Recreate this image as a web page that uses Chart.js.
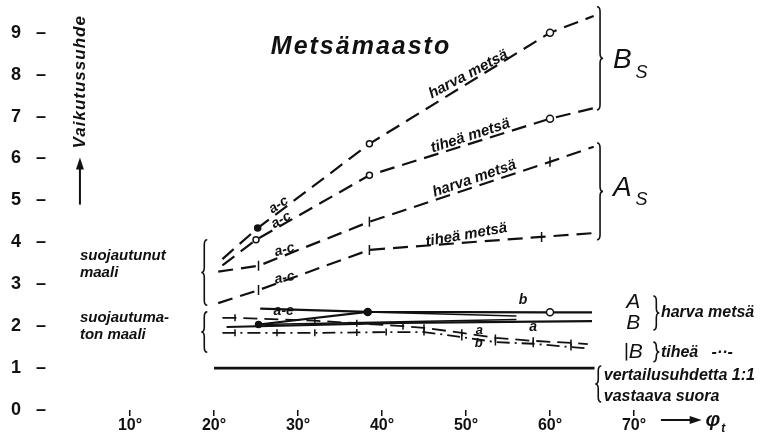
<!DOCTYPE html>
<html>
<head>
<meta charset="utf-8">
<script src="https://cdn.jsdelivr.net/npm/chart.js@4.4.0/dist/chart.umd.min.js"></script>
<style>
  html, body { margin: 0; padding: 0; background: #fff; }
  #wrap { width: 763px; height: 443px; }
</style>
</head>
<body>
<div id="wrap"><canvas id="chart"></canvas></div>
<script>
// Metsämaasto: vaikutussuhde kulman (phi_t) funktiona

// suojautunut maali, Bs
const bsHarvaX = [21, 25.2, 38.5, 60, 65.2];
const bsHarvaY = [3.6, 4.34, 6.35, 9.0, 9.4];
const bsTiheaX = [21, 25, 38.5, 60, 65.2];
const bsTiheaY = [3.45, 4.06, 5.6, 6.95, 7.2];

// suojautunut maali, As
const asHarvaX = [20.5, 25.3, 38.5, 60, 65.2];
const asHarvaY = [3.3, 3.44, 4.49, 5.92, 6.28];
const asTiheaX = [20.5, 25.3, 38.5, 59, 65.2];
const asTiheaY = [2.55, 2.86, 3.82, 4.13, 4.22];

// suojautumaton maali, harva metsä (A ja B)
const aHarvaX = [25.5, 38.3, 60, 65];
const aHarvaY = [2.42, 2.34, 2.33, 2.33];
const aHarvaCX = [25.3, 38.3];
const aHarvaCY = [2.04, 2.34];
const aHarvaBX = [38.3, 56];
const aHarvaBY = [2.34, 2.24];
const bHarvaX = [21.5, 42, 65];
const bHarvaY = [1.98, 2.08, 2.12];
const bHarvaAX = [25.3, 56];
const bHarvaAY = [2.04, 2.16];

// suojautumaton maali, tiheä metsä (B, a ja b)
const bTiheaAX = [21, 22.5, 32, 37, 42.5, 45, 49.5, 53.5, 58, 62.5, 64.5];
const bTiheaAY = [2.2, 2.2, 2.13, 2.07, 2.0, 1.96, 1.84, 1.72, 1.65, 1.6, 1.57];
const bTiheaBX = [21, 22.5, 27.5, 32, 37, 40.5, 45, 49.5, 53.5, 58, 62.5, 64.5];
const bTiheaBY = [1.84, 1.84, 1.84, 1.84, 1.85, 1.86, 1.86, 1.74, 1.62, 1.58, 1.5, 1.47];

// vertailusuhdetta 1:1 vastaava suora
const refX = [20, 65.3];
const refY = [1.0, 1.0];

const xTickValues = [10, 20, 30, 40, 50, 60, 70];
const yTickValues = [0, 1, 2, 3, 4, 5, 6, 7, 8, 9];

const ink = "#111";
const fam = "'Liberation Sans', Arial, sans-serif";

function series(xs, ys, extra) {
  return Object.assign({
    data: xs.map((x, i) => ({ x: x, y: ys[i] })),
    showLine: true,
    borderColor: ink,
    borderWidth: 2.2,
    pointRadius: 0,
    pointBorderColor: ink,
    pointBackgroundColor: ink,
    pointBorderWidth: 1.5,
    tension: 0,
    fill: false,
  }, extra);
}

const dash = [15, 8];
const open = "#fff";

const datasets = [
  series(bsHarvaX, bsHarvaY, { borderDash: dash, pointRadius: [0, 3, 3, 3.5, 0], pointBackgroundColor: [ink, ink, open, open, ink] }),
  series(bsTiheaX, bsTiheaY, { borderDash: dash, pointRadius: [0, 3, 3, 3.5, 0], pointBackgroundColor: open }),
  series(asHarvaX, asHarvaY, { borderDash: dash, pointStyle: "line", pointRotation: 90, pointRadius: [0, 5, 5, 5, 0] }),
  series(asTiheaX, asTiheaY, { borderDash: dash, pointStyle: "line", pointRotation: 90, pointRadius: [0, 5, 5, 5, 0] }),
  series(aHarvaX, aHarvaY, { pointRadius: [0, 3.5, 3.5, 0], pointBackgroundColor: [ink, ink, open, ink] }),
  series(aHarvaCX, aHarvaCY, { pointRadius: [3, 0] }),
  series(aHarvaBX, aHarvaBY, { borderWidth: 1.5 }),
  series(bHarvaX, bHarvaY, {}),
  series(bHarvaAX, bHarvaAY, { borderWidth: 1.5 }),
  series(bTiheaAX, bTiheaAY, { borderWidth: 1.8, borderDash: [14, 7], pointStyle: "line", pointRotation: 90, pointRadius: [0, 3.5, 3.5, 3.5, 3.5, 3.5, 3.5, 3.5, 3.5, 3.5, 0] }),
  series(bTiheaBX, bTiheaBY, { borderWidth: 1.8, borderDash: [13, 5, 2, 5], pointStyle: "line", pointRotation: 90, pointRadius: [0, 3.5, 3.5, 3.5, 3.5, 3.5, 3.5, 3.5, 3.5, 3.5, 3.5, 0] }),
  series(refX, refY, { borderWidth: 2.6 }),
];

// text annotations in data coordinates
const bi = (s) => "italic bold " + s + "px " + fam;
const notes = [
  { x: 37.5, y: 8.65, t: "Metsämaasto", font: bi(25), align: "center", sp: 2 },
  { x: 4.04, y: 7.83, t: "Vaikutussuhde", font: bi(17), align: "center", rot: -90, sp: 1 },
  { x: 4.04, y: 3.68, t: "suojautunut", font: bi(15) },
  { x: 4.04, y: 3.27, t: "maali", font: bi(15) },
  { x: 4.04, y: 2.2, t: "suojautuma-", font: bi(15) },
  { x: 4.04, y: 1.79, t: "ton maali", font: bi(15) },
  { x: 50.7, y: 7.85, t: "harva metsä", font: bi(15), align: "center", base: "bottom", rot: -28 },
  { x: 50.8, y: 6.37, t: "tiheä metsä", font: bi(15), align: "center", base: "bottom", rot: -18 },
  { x: 51.3, y: 5.35, t: "harva metsä", font: bi(15), align: "center", base: "bottom", rot: -19 },
  { x: 50.2, y: 4.0, t: "tiheä metsä", font: bi(15), align: "center", base: "bottom", rot: -10 },
  { x: 27.7, y: 4.89, t: "a-c", font: bi(14), align: "center", rot: -33 },
  { x: 28.0, y: 4.53, t: "a-c", font: bi(14), align: "center", rot: -30 },
  { x: 28.4, y: 3.82, t: "a-c", font: bi(14), align: "center", rot: -15 },
  { x: 28.4, y: 3.15, t: "a-c", font: bi(14), align: "center", rot: -12 },
  { x: 28.3, y: 2.36, t: "a-e", font: bi(14), align: "center" },
  { x: 56.8, y: 2.62, t: "b", font: bi(14), align: "center" },
  { x: 58.0, y: 1.98, t: "a", font: bi(14), align: "center" },
  { x: 51.6, y: 1.9, t: "a", font: bi(13), align: "center" },
  { x: 51.5, y: 1.6, t: "b", font: bi(13), align: "center" },
  { x: 68.6, y: 8.35, t: "B", font: "italic 28px " + fam, align: "center" },
  { x: 70.9, y: 8.05, t: "S", font: "italic 18px " + fam, align: "center" },
  { x: 68.6, y: 5.3, t: "A", font: "italic 28px " + fam, align: "center" },
  { x: 70.9, y: 5.02, t: "S", font: "italic 18px " + fam, align: "center" },
  { x: 69.9, y: 2.58, t: "A", font: "italic 21px " + fam, align: "center" },
  { x: 69.9, y: 2.06, t: "B", font: "italic 21px " + fam, align: "center" },
  { x: 73.2, y: 2.32, t: "harva metsä", font: bi(16) },
  { x: 70.2, y: 1.38, t: "B", font: "italic 21px " + fam, align: "center" },
  { x: 73.2, y: 1.38, t: "tiheä   -··-", font: bi(16) },
  { x: 66.4, y: 0.82, t: "vertailusuhdetta 1:1", font: bi(16) },
  { x: 66.4, y: 0.31, t: "vastaava suora", font: bi(16) },
  { x: 78.5, y: -0.24, t: "φ", font: "italic bold 21px " + fam },
  { x: 80.4, y: -0.44, t: "t", font: bi(12) },
];

// curly braces: x, y from, y to, direction (+1 = "}", -1 = "{")
const braces = [
  { x: 19.2, y1: 4.06, y2: 2.5, dir: -1 },
  { x: 19.2, y1: 2.34, y2: 1.38, dir: -1 },
  { x: 65.6, y1: 9.62, y2: 7.16, dir: 1 },
  { x: 65.6, y1: 6.37, y2: 4.06, dir: 1 },
  { x: 72.3, y1: 2.72, y2: 1.91, dir: 1 },
  { x: 72.3, y1: 1.62, y2: 1.15, dir: 1 },
  { x: 66.1, y1: 1.05, y2: 0.19, dir: -1 },
];

const arrows = [
  { x1: 4.04, y1: 4.9, x2: 4.04, y2: 5.95 },
  { x1: 73.2, y1: -0.24, x2: 77.7, y2: -0.24 },
];

function drawBrace(ctx, x, ya, yb, dir) {
  const w = 6, r = 5, ym = (ya + yb) / 2;
  ctx.beginPath();
  ctx.moveTo(x, ya);
  ctx.quadraticCurveTo(x + dir * w * 0.5, ya, x + dir * w * 0.5, ya + r);
  ctx.lineTo(x + dir * w * 0.5, ym - r);
  ctx.quadraticCurveTo(x + dir * w * 0.5, ym, x + dir * w, ym);
  ctx.quadraticCurveTo(x + dir * w * 0.5, ym, x + dir * w * 0.5, ym + r);
  ctx.lineTo(x + dir * w * 0.5, yb - r);
  ctx.quadraticCurveTo(x + dir * w * 0.5, yb, x, yb);
  ctx.stroke();
}

const notesPlugin = {
  id: "notes",
  afterDatasetsDraw(chart) {
    const { ctx } = chart;
    const xs = chart.scales.x, ys = chart.scales.y;
    ctx.save();
    ctx.fillStyle = ink;
    ctx.strokeStyle = ink;
    notes.forEach((n) => {
      ctx.save();
      ctx.translate(xs.getPixelForValue(n.x), ys.getPixelForValue(n.y));
      ctx.rotate(((n.rot || 0) * Math.PI) / 180);
      ctx.font = n.font;
      ctx.letterSpacing = (n.sp || 0) + "px";
      ctx.textAlign = n.align || "left";
      ctx.textBaseline = n.base || "middle";
      ctx.fillText(n.t, 0, 0);
      ctx.restore();
    });
    ctx.lineWidth = 1.6;
    braces.forEach((b) => {
      drawBrace(ctx, xs.getPixelForValue(b.x), ys.getPixelForValue(b.y1), ys.getPixelForValue(b.y2), b.dir);
    });
    // short bar in front of the tiheä "B"
    ctx.beginPath();
    ctx.moveTo(xs.getPixelForValue(69.1), ys.getPixelForValue(1.6));
    ctx.lineTo(xs.getPixelForValue(69.1), ys.getPixelForValue(1.18));
    ctx.stroke();
    ctx.lineWidth = 2;
    arrows.forEach((a) => {
      const x1 = xs.getPixelForValue(a.x1), y1 = ys.getPixelForValue(a.y1);
      const x2 = xs.getPixelForValue(a.x2), y2 = ys.getPixelForValue(a.y2);
      const ang = Math.atan2(y2 - y1, x2 - x1);
      ctx.beginPath();
      ctx.moveTo(x1, y1);
      ctx.lineTo(x2, y2);
      ctx.stroke();
      ctx.beginPath();
      ctx.moveTo(x2 + 3 * Math.cos(ang), y2 + 3 * Math.sin(ang));
      ctx.lineTo(x2 - 9 * Math.cos(ang) + 4 * Math.sin(ang), y2 - 9 * Math.sin(ang) - 4 * Math.cos(ang));
      ctx.lineTo(x2 - 9 * Math.cos(ang) - 4 * Math.sin(ang), y2 - 9 * Math.sin(ang) + 4 * Math.cos(ang));
      ctx.closePath();
      ctx.fill();
    });
    ctx.restore();
  },
};

new Chart(document.getElementById("chart"), {
  type: "scatter",
  data: { datasets: datasets },
  options: {
    responsive: true,
    maintainAspectRatio: false,
    animation: false,
    layout: { padding: { left: 0, right: 45, top: 0, bottom: 0 } },
    plugins: { legend: { display: false }, tooltip: { enabled: false } },
    scales: {
      x: {
        type: "linear",
        min: 0,
        max: 80,
        border: { display: false },
        grid: { drawOnChartArea: false, drawTicks: true, tickLength: 6, color: ink, lineWidth: 1.5 },
        ticks: {
          stepSize: 10,
          padding: 0,
          color: ink,
          font: { family: fam, size: 16, weight: "bold" },
          maxRotation: 0,
          callback: (v) => v + "°",
        },
        afterBuildTicks: (scale) => {
          scale.ticks = xTickValues.map((v) => ({ value: v }));
        },
        afterFit: (scale) => { scale.height = 33; },
      },
      y: {
        type: "linear",
        min: 0,
        max: 9.65,
        border: { display: false },
        grid: { display: false },
        ticks: {
          stepSize: 1,
          padding: -8,
          includeBounds: false,
          color: ink,
          font: { family: fam, size: 18, weight: "bold" },
          callback: (v) => v + "   –",
        },
        afterBuildTicks: (scale) => {
          scale.ticks = yTickValues.map((v) => ({ value: v }));
        },
        afterFit: (scale) => { scale.width = 46; },
      },
    },
  },
  plugins: [notesPlugin],
});
</script>
</body>
</html>
